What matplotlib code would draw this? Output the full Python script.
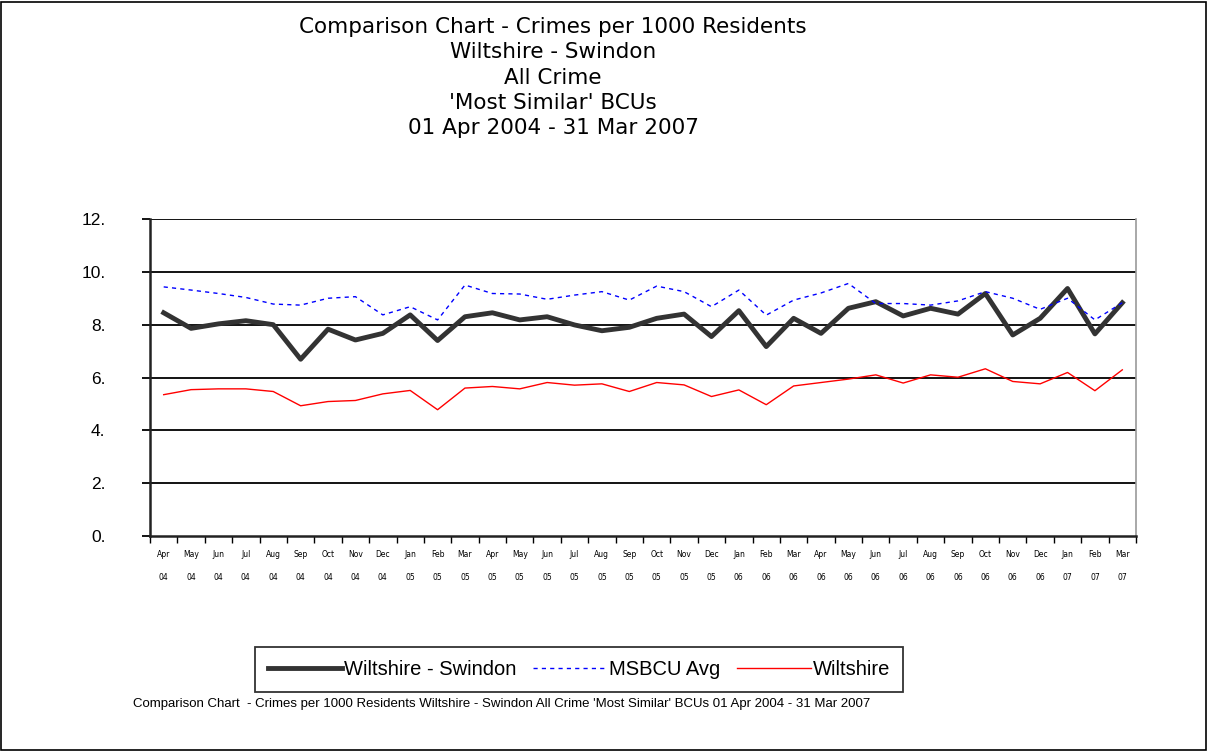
import numpy as np
import matplotlib
matplotlib.use('Agg')
import matplotlib.pyplot as plt
from matplotlib.patches import Rectangle

# データ
months = ['Apr', 'May', 'Jun', 'Jul', 'Aug', 'Sep', 'Oct', 'Nov', 'Dec', 'Jan', 'Feb', 'Mar']
years = ['04'] * 9 + ['05'] * 12 + ['06'] * 12 + ['07'] * 3
labels = [months[i % 12] + '\n' + years[i] for i in range(36)]

swindon = [8.45, 7.86, 8.03, 8.15, 8.0, 6.69, 7.83, 7.42, 7.67, 8.37, 7.40, 8.30,
           8.45, 8.18, 8.30, 7.99, 7.77, 7.90, 8.24, 8.40, 7.55, 8.53, 7.17, 8.24,
           7.67, 8.62, 8.87, 8.33, 8.62, 8.40, 9.18, 7.61, 8.24, 9.37, 7.65, 8.83]
msbcu = [9.43, 9.31, 9.18, 9.03, 8.78, 8.74, 9.00, 9.06, 8.37, 8.68, 8.18, 9.50,
         9.18, 9.16, 8.96, 9.12, 9.25, 8.93, 9.46, 9.25, 8.68, 9.31, 8.36, 8.93,
         9.20, 9.56, 8.80, 8.80, 8.74, 8.90, 9.25, 9.00, 8.58, 9.00, 8.18, 8.83]
wiltshire = [5.35, 5.54, 5.57, 5.57, 5.47, 4.93, 5.09, 5.13, 5.38, 5.51, 4.78, 5.60,
             5.66, 5.57, 5.81, 5.71, 5.76, 5.47, 5.81, 5.72, 5.28, 5.53, 4.97, 5.68,
             5.81, 5.94, 6.10, 5.79, 6.10, 6.01, 6.33, 5.85, 5.76, 6.19, 5.50, 6.29]

title = ("Comparison Chart - Crimes per 1000 Residents\nWiltshire - Swindon\nAll Crime\n"
         "'Most Similar' BCUs\n01 Apr 2004 - 31 Mar 2007")
footnote = ("Comparison Chart  - Crimes per 1000 Residents Wiltshire - Swindon All Crime "
            "'Most Similar' BCUs 01 Apr 2004 - 31 Mar 2007")

W, H = 1208, 751
fig = plt.figure(figsize=(W / 100, H / 100), dpi=100)
fig.patches.append(Rectangle((0.001, 0.001), 0.997, 0.997, transform=fig.transFigure,
                             fill=False, edgecolor='black', linewidth=1.2))

ax = fig.add_axes([150 / W, 1 - 536 / H, 986 / W, 317 / H])
x = np.arange(36)

ax.plot(x, swindon, color='#333333', linewidth=3.5, label='Wiltshire - Swindon', zorder=3)
ax.plot(x, msbcu, color='#0000ff', linewidth=1, dashes=(3, 3), label='MSBCU Avg', zorder=3)
ax.plot(x, wiltshire, color='#ff0000', linewidth=1, label='Wiltshire', zorder=3)

ax.set_xlim(-0.5, 35.5)
ax.set_ylim(0, 12)
ax.set_yticks(np.arange(0, 13, 2))
ax.set_yticklabels(['%d.' % v for v in range(0, 13, 2)], fontsize=12.5,
                   family='Liberation Sans')
for v in range(2, 13, 2):
    ax.axhline(v, color='black', linewidth=1.3, zorder=1)

ax.set_xticks(x)
ax.set_xticklabels(labels, fontsize=5.5, family='DejaVu Sans', linespacing=3.0)
ax.set_xticks(np.arange(-0.5, 36, 1), minor=True)
ax.tick_params(axis='x', which='major', length=0, pad=10)
ax.tick_params(axis='x', which='minor', length=5, width=1, direction='out')
ax.tick_params(axis='y', length=6, width=1.3, direction='out', pad=26)

for s in ['left', 'bottom']:
    ax.spines[s].set_linewidth(1.8)
    ax.spines[s].set_color('#222222')
ax.spines['top'].set_visible(False)
ax.spines['right'].set_color('#999999')
ax.spines['right'].set_linewidth(1.2)

fig.text(553 / W, 1 - 17 / H, title, ha='center', va='top', fontsize=15.5,
         family='DejaVu Sans', linespacing=1.33)

leg = fig.legend(loc='center', bbox_to_anchor=(579 / W, 1 - 669.5 / H), ncol=3,
                 frameon=True, fancybox=False, handlelength=3.7, handletextpad=0.1,
                 columnspacing=0.8, borderpad=0.65, borderaxespad=0,
                 prop={'family': 'Liberation Sans', 'size': 14.5})
leg.get_frame().set_edgecolor('black')
leg.get_frame().set_linewidth(1.3)

fig.text(133 / W, 1 - 704 / H, footnote, ha='left', va='center', fontsize=9.5,
         family='Liberation Sans')

fig.savefig('out.png', dpi=100)
